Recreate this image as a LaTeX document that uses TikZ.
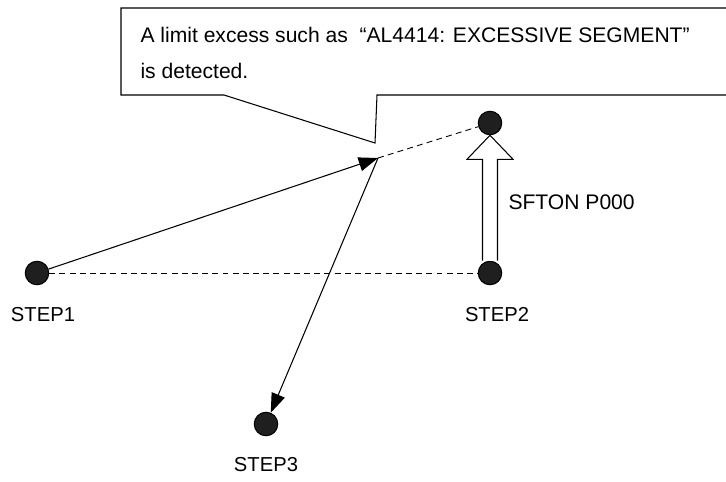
\documentclass[tikz,border=0pt]{standalone}
\usepackage{fontspec}
\setmainfont{Liberation Sans}
\usetikzlibrary{arrows.meta,calc,positioning}
\begin{document}
\begin{tikzpicture}[x=0.02cm,y=-0.02cm,line width=.6pt,>={Triangle[length=11pt,width=8pt]}]
	\tikzset{every node/.style={font=\fontsize{12}{14}\selectfont,inner sep=0pt},
		dot/.style={circle,draw=black,fill=black!88,minimum size=0.47cm},
		steplabel/.style={anchor=base,font=\fontsize{11.5}{14}\selectfont},
		dashline/.style={line width=.5pt,dash pattern=on 3.4pt off 2.4pt}}
	\useasboundingbox (0,0) rectangle (726,481);
	% callout
	\draw[fill=white] (726,8)--(121,8)--(121,95)--(224,95)--(375,143)--(377,95)--(726,95);
	\node[anchor=base west] (msg1) at (140,42) {A limit excess such as\ \ “AL4414: EXCESSIVE SEGMENT”};
	\node[anchor=base west] (msg2) at (140,78) {is detected.};
	% points
	\coordinate (p) at (378,158);
	\node[dot] (s1) at (37,273) {};
	\node[dot] (s2) at (490,273) {};
	\node[dot] (top) at (490,123) {};
	\node[dot] (s3) at (266,424) {};
	\node[steplabel] at ($(s1)+(6,48)$) {STEP1};
	\node[steplabel] at ($(s2)+(7,48)$) {STEP2};
	\node[steplabel] at ($(s3)+(0,47)$) {STEP3};
	% moves
	\draw[dashline] (s1)--(s2);
	\draw[dashline] (p)--(top);
	\draw[->] (s1)--(p);
	\draw[->] (p)--(s3);
	% shift signal
	\draw[fill=white] ($(s2.north)+(-7.5,0)$) |- ($(top.south)+(-23,24)$) -- (top.south)
		-- ($(top.south)+(23,24)$) -| ($(s2.north)+(7.5,0)$);
	\node[anchor=base west] (sig) at (508,209) {SFTON P000};
\end{tikzpicture}
\end{document}
